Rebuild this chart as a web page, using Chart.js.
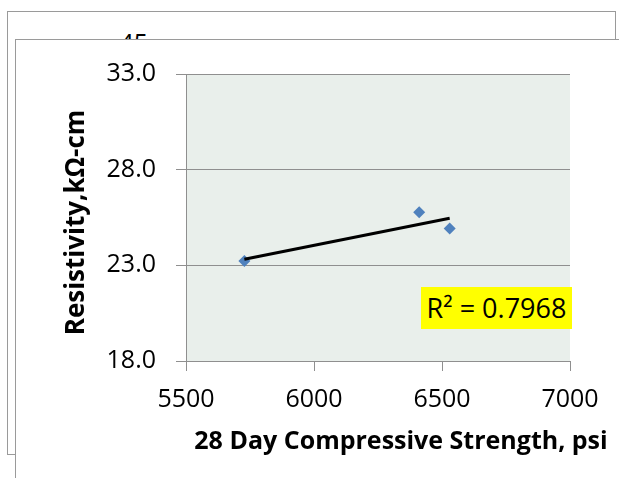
<!DOCTYPE html>
<html>
<head>
<meta charset="utf-8">
<script src="https://cdn.jsdelivr.net/npm/chart.js@4/dist/chart.umd.min.js"></script>
<style>
  html, body { margin: 0; padding: 0; background: #fff; }
  body { width: 619px; height: 478px; position: relative; overflow: hidden; font-family: "Open Sans", sans-serif; }
  .frame { position: absolute; box-sizing: border-box; border: 1px solid #9a9a9a; }
  #backFrame { left: 7px; top: 11px; width: 609px; height: 444px; }
  #backLabel { position: absolute; left: 100px; top: 30px; width: 48px; text-align: right; font-size: 25px; line-height: 25px; color: #000; }
  #frontFrame { left: 15px; top: 39px; width: 640px; height: 470px; background: #fff; }
  #chart { position: absolute; left: 0; top: 0; }
  #r2 { position: absolute; left: 421px; top: 287px; width: 151px; height: 42px; background: #ffff00;
        font-size: 27px; line-height: 42px; text-align: center; color: #000; white-space: nowrap; }
</style>
</head>
<body>
<div class="frame" id="backFrame"></div>
<div id="backLabel">45</div>
<div class="frame" id="frontFrame"></div>
<canvas id="chart" width="619" height="478"></canvas>
<div id="r2"></div>
<script>
// Measured samples: 28-day compressive strength (psi) vs. resistivity (kΩ-cm)
const strength = [5728, 6411, 6530];
const resistivity = [23.23, 25.77, 24.93];

// Axis ticks
const xTicks = [5500, 6000, 6500, 7000];
const yTicks = [18, 23, 28, 33];

// Axis titles and fit statistic
const xTitle = '28 Day Compressive Strength, psi';
const yTitle = 'Resistivity,kΩ-cm';
const r2Text = 'R² = 0.7968';

document.getElementById('r2').textContent = r2Text;

// Least-squares linear trendline through the samples
function linearFit(xs, ys) {
  const n = xs.length;
  const mx = xs.reduce((a, b) => a + b, 0) / n;
  const my = ys.reduce((a, b) => a + b, 0) / n;
  let sxy = 0, sxx = 0;
  for (let i = 0; i < n; i++) {
    sxy += (xs[i] - mx) * (ys[i] - my);
    sxx += (xs[i] - mx) * (xs[i] - mx);
  }
  const slope = sxy / sxx;
  return { slope, intercept: my - slope * mx };
}
const fit = linearFit(strength, resistivity);
const xLo = Math.min(...strength), xHi = Math.max(...strength);
const trendPoints = [xLo, xHi].map(x => ({ x, y: fit.intercept + fit.slope * x }));
const samplePoints = strength.map((x, i) => ({ x, y: resistivity[i] }));

const plotBackground = {
  id: 'plotBackground',
  beforeDraw(chart) {
    const { ctx, chartArea: a } = chart;
    ctx.save();
    ctx.fillStyle = '#e9efeb';
    ctx.fillRect(a.left, a.top, a.right - a.left, a.bottom - a.top);
    ctx.restore();
  }
};

// Bold axis titles, placed relative to the plot area
const axisTitles = {
  id: 'axisTitles',
  afterDraw(chart) {
    const { ctx, chartArea: a } = chart;
    ctx.save();
    ctx.fillStyle = '#000';
    ctx.textAlign = 'center';
    ctx.textBaseline = 'middle';
    ctx.font = 'bold 25px "Open Sans", sans-serif';
    ctx.fillText(xTitle, (a.left + a.right) / 2 + 23, a.bottom + 81);
    ctx.translate(a.left - 109, (a.top + a.bottom) / 2 + 5);
    ctx.rotate(-Math.PI / 2);
    ctx.font = 'bold 26px "Open Sans", sans-serif';
    ctx.fillText(yTitle, 0, 0);
    ctx.restore();
  }
};

const axisColor = '#8f8f8f';
const tickFont = { family: '"Open Sans", sans-serif', size: 25 };

new Chart(document.getElementById('chart'), {
  type: 'scatter',
  data: {
    datasets: [
      {
        type: 'line',
        data: trendPoints,
        borderColor: '#000',
        borderWidth: 3,
        pointRadius: 0,
        fill: false
      },
      {
        data: samplePoints,
        pointStyle: 'rectRot',
        pointRadius: 6,
        pointHoverRadius: 6,
        backgroundColor: '#4f81bd',
        borderWidth: 0
      }
    ]
  },
  options: {
    responsive: false,
    animation: false,
    devicePixelRatio: 1,
    events: [],
    layout: { padding: { left: 0, right: 49, top: 74, bottom: 0 } },
    plugins: { legend: { display: false }, tooltip: { enabled: false } },
    scales: {
      x: {
        type: 'linear',
        min: 5500,
        max: 7000,
        afterBuildTicks: s => { s.ticks = xTicks.map(v => ({ value: v })); },
        afterFit: s => { s.height = 117; },
        ticks: { font: tickFont, color: '#000', padding: 14, maxRotation: 0, callback: v => String(v) },
        grid: { drawOnChartArea: false, tickLength: 10, color: axisColor },
        border: { display: true, color: axisColor },
        title: { display: false }
      },
      y: {
        type: 'linear',
        min: 18,
        max: 33,
        afterBuildTicks: s => { s.ticks = yTicks.map(v => ({ value: v })); },
        afterFit: s => { s.width = 186; },
        ticks: { font: tickFont, color: '#000', padding: 20, callback: v => v.toFixed(1) },
        grid: { tickLength: 10, color: axisColor },
        border: { display: true, color: axisColor },
        title: { display: false }
      }
    }
  },
  plugins: [plotBackground, axisTitles]
});
</script>
</body>
</html>
